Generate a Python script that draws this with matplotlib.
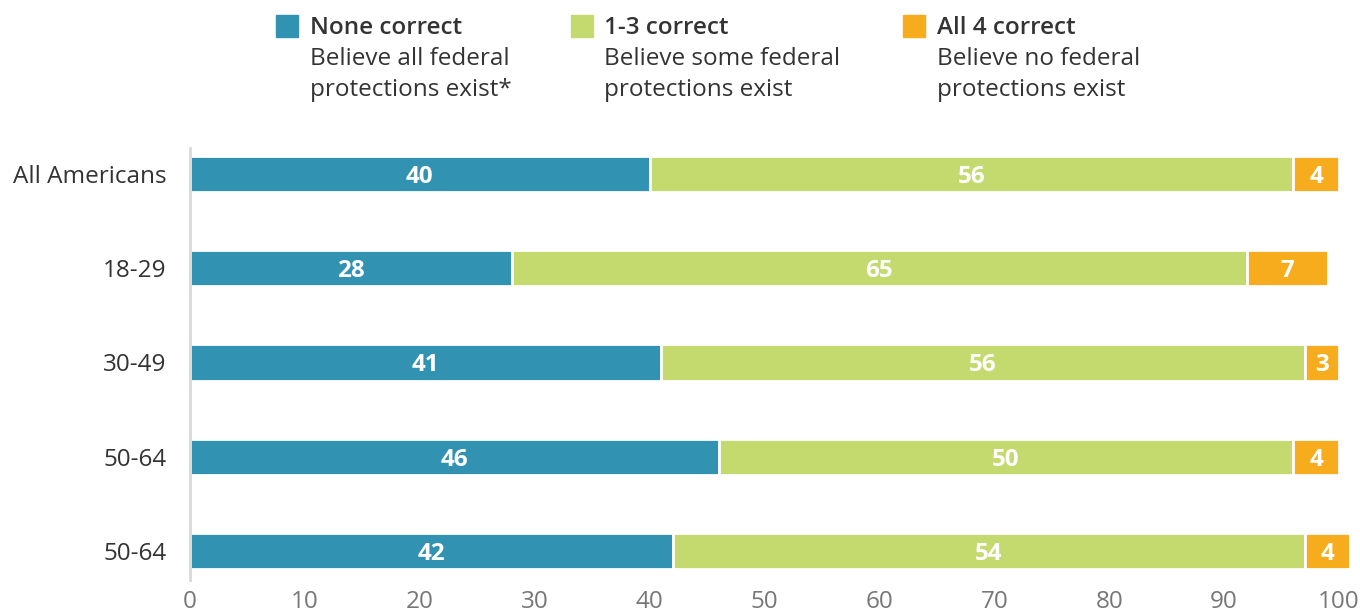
import matplotlib
matplotlib.use('Agg')
import numpy as np
import matplotlib.pyplot as plt
from matplotlib.patches import Rectangle

plt.rcParams['font.family'] = ['Open Sans', 'DejaVu Sans']

# data
groups = ['All Americans', '18-29', '30-49', '50-64', '50-64']
none_correct = [40, 28, 41, 46, 42]
some_correct = [56, 64, 56, 50, 55]
all_correct = [4, 7, 3, 4, 4]
none_labels = ['40', '28', '41', '46', '42']
some_labels = ['56', '65', '56', '50', '54']
all_labels = ['4', '7', '3', '4', '4']
xticks = [0, 10, 20, 30, 40, 50, 60, 70, 80, 90, 100]

legend_titles = ['None correct', '1-3 correct', 'All 4 correct']
legend_subs = [['Believe all federal', 'protections exist*'],
               ['Believe some federal', 'protections exist'],
               ['Believe no federal', 'protections exist']]

TEAL = '#3292b2'
GREEN = '#c4da6e'
ORANGE = '#f7ac1e'
colors = [TEAL, GREEN, ORANGE]
FS = 17.5

W, H = 1360, 611
fig = plt.figure(figsize=(W / 100, H / 100), dpi=100)
ax = fig.add_axes([190 / W, 1 - 580 / H, (1339 - 190) / W, (580 - 148) / H])

y = np.arange(len(groups))
left = np.zeros(len(groups))
series = [none_correct, some_correct, all_correct]
labels = [none_labels, some_labels, all_labels]
for vals, labs, col in zip(series, labels, colors):
    vals = np.array(vals, dtype=float)
    bars = ax.barh(y, vals, left=left, height=0.385, color=col,
                   edgecolor='white', linewidth=2, clip_on=False)
    for b, lab in zip(bars, labs):
        ax.text(b.get_x() + b.get_width() / 2, b.get_y() + b.get_height() / 2,
                lab, ha='center', va='center_baseline', color='white',
                fontsize=FS, fontweight='bold')
    left += vals

ax.set_xlim(0, 100)
ax.set_ylim(4.308, -0.276)
ax.set_yticks(y)
ax.set_yticklabels(groups, fontsize=FS, color='#333333')
ax.set_xticks(xticks)
ax.set_xticklabels([str(t) for t in xticks], fontsize=FS, color='#777777')
ax.tick_params(axis='y', length=0, pad=17)
ax.tick_params(axis='x', length=0, pad=7)
for s in ['top', 'right', 'bottom']:
    ax.spines[s].set_visible(False)
ax.spines['left'].set_color('#d9d9d9')
ax.spines['left'].set_linewidth(2)

# legend on top
sq_x = [276, 571, 903]
txt_x = [310, 604, 937]
for i in range(3):
    fig.patches.append(Rectangle((sq_x[i] / W, 1 - 37 / H), 22 / W, 22 / H,
                                 transform=fig.transFigure, color=colors[i]))
    fig.text(txt_x[i] / W, 1 - 34 / H, legend_titles[i], ha='left', va='baseline',
             fontsize=FS, fontweight='semibold', color='#333333')
    for j, line in enumerate(legend_subs[i]):
        fig.text(txt_x[i] / W, 1 - (65 + 31 * j) / H, line, ha='left',
                 va='baseline', fontsize=FS, color='#333333')

fig.savefig('out.png', dpi=100)
